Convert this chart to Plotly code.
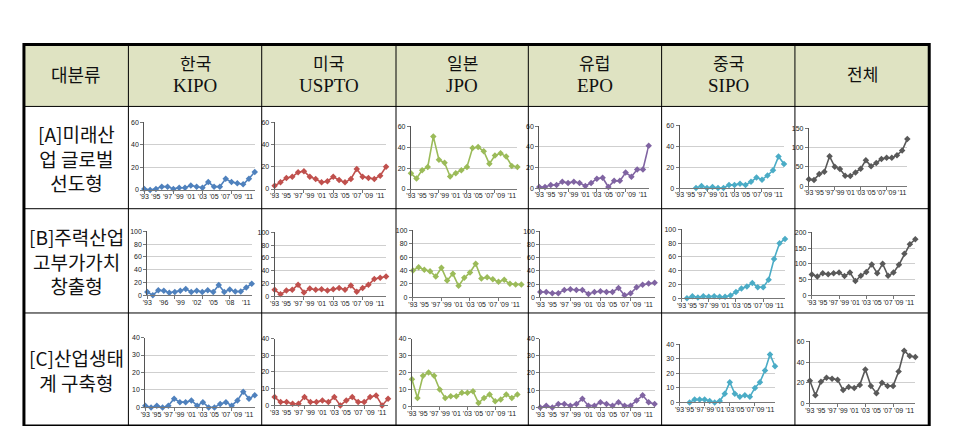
import plotly.graph_objects as go

W, H = 964, 426
years = list(range(1993, 2013))

header_ko = ["한국", "미국", "일본", "유럽", "중국", "전체"]
header_en = ["KIPO", "USPTO", "JPO", "EPO", "SIPO", ""]
row_labels = ["[A]미래산<br>업 글로벌<br>선도형",
              "[B]주력산업<br>고부가가치<br>창출형",
              "[C]산업생태<br>계 구축형"]
colors = ["#4f81bd", "#c0504d", "#9bbb59", "#8064a2", "#4bacc6", "#595959"]

# Row A
a_kipo = [1, 0, 1, 3, 3, 1, 2, 2, 4, 3, 2, 7, 3, 3, 10, 7, 6, 5, 10, 16]
a_uspto = [3, 6, 10, 11, 15, 16, 11, 9, 6, 7, 11, 8, 6, 9, 18, 11, 10, 9, 12, 20]
a_jpo = [15, 10, 18, 21, 50, 28, 25, 12, 15, 18, 21, 39, 40, 36, 24, 32, 34, 31, 22, 21]
a_epo = [1, 1, 3, 3, 6, 5, 6, 5, 2, 5, 9, 10, 1, 7, 7, 15, 11, 18, 18, 41]
a_sipo = [None, None, None, 0, 2, 0, 1, 0, 0, 3, 3, 4, 3, 6, 10, 8, 12, 17, 30, 23]
a_total = [18, 16, 31, 37, 77, 50, 44, 27, 26, 35, 45, 67, 51, 60, 70, 73, 73, 80, 92, 122]
# Row B
b_kipo = [5, 0, 8, 7, 4, 5, 7, 10, 5, 7, 5, 8, 5, 16, 5, 9, 6, 6, 12, 18]
b_uspto = [10, 3, 9, 10, 18, 6, 12, 10, 11, 9, 11, 13, 10, 17, 7, 13, 18, 27, 29, 31]
b_jpo = [40, 45, 41, 39, 31, 44, 25, 35, 17, 29, 37, 50, 28, 30, 27, 23, 26, 20, 19, 19]
b_epo = [8, 8, 6, 6, 11, 12, 11, 11, 5, 8, 9, 8, 8, 14, 3, 6, 15, 19, 21, 22]
b_sipo = [None, 0, 3, 1, 3, 2, 3, 2, 2, 4, 9, 14, 17, 22, 16, 16, 27, 57, 80, 86]
b_total = [66, 60, 70, 67, 70, 72, 61, 72, 45, 62, 74, 98, 70, 100, 62, 72, 97, 132, 162, 178]
# Row C
c_kipo = [1, 0, 1, 0, 1, 5, 3, 3, 4, 1, 3, 0, 0, 2, 3, 1, 4, 9, 5, 7]
c_uspto = [5, 2, 2, 1, 1, 5, 2, 2, 3, 2, 5, 0, 3, 5, 2, 2, 5, 6, 0, 4]
c_jpo = [16, 5, 18, 20, 18, 10, 5, 6, 6, 8, 8, 9, 2, 5, 7, 3, 4, 7, 5, 7]
c_epo = [0, 1, 0, 2, 2, 1, 2, 5, 1, 1, 3, 2, 1, 3, 1, 1, 4, 7, 3, 2]
c_sipo = [None, None, 0, 2, 2, 2, 1, 0, 1, 6, 14, 6, 4, 5, 4, 10, 14, 22, 33, 25]
c_total = [22, 8, 21, 25, 24, 23, 13, 16, 15, 18, 33, 17, 10, 20, 17, 17, 31, 51, 46, 45]

series = [
    [a_kipo, a_uspto, a_jpo, a_epo, a_sipo, a_total],
    [b_kipo, b_uspto, b_jpo, b_epo, b_sipo, b_total],
    [c_kipo, c_uspto, c_jpo, c_epo, c_sipo, c_total],
]
# y-axis max and step per cell
ymax = [[60, 60, 60, 60, 60, 150], [100, 100, 100, 100, 100, 200], [40, 40, 40, 40, 40, 60]]
ystep = [[20, 20, 20, 20, 20, 50], [20, 20, 20, 20, 20, 50], [10, 10, 10, 10, 10, 20]]

# plot boxes in pixels: left, right, top, bottom
boxes = [
    [(132, 243, 112, 181), (263, 375, 112, 180), (400, 507, 116, 180),
     (529, 639, 116, 179), (670, 775, 115, 179), (800, 899, 118, 177)],
    [(135, 240, 223, 288), (263, 375, 224, 289), (402, 511, 222, 290),
     (530, 645, 223, 290), (672, 776, 221, 291), (803, 907, 224, 288)],
    [(133, 243, 331, 402), (263, 377, 332, 400), (401, 507, 332, 401),
     (530, 645, 332, 402), (670, 766, 338, 397), (801, 907, 335, 398)],
]

fig = go.Figure()
layout = {}
n = 0
for r in range(3):
    for c in range(6):
        n += 1
        xa = "x" if n == 1 else f"x{n}"
        ya = "y" if n == 1 else f"y{n}"
        fig.add_trace(go.Scatter(
            x=years, y=series[r][c], mode="lines+markers",
            line=dict(color=colors[c], width=1.6),
            marker=dict(symbol="diamond", size=5, color=colors[c]),
            cliponaxis=False, showlegend=False, xaxis=xa, yaxis=ya,
            connectgaps=False))
        L, R, T, B = boxes[r][c]
        if r == 1 and c == 0:
            tv = years[::3]
        else:
            tv = years[::2]
        tt = ["'" + str(y)[2:] for y in tv]
        xkey = "xaxis" if n == 1 else f"xaxis{n}"
        ykey = "yaxis" if n == 1 else f"yaxis{n}"
        layout[xkey] = dict(
            domain=[L / W, R / W], range=[1993, 2012], anchor=ya,
            tickmode="array", tickvals=tv, ticktext=tt, tickangle=0,
            tickfont=dict(family="Liberation Sans, Arial", size=7, color="#222"),
            showline=True, linecolor="#777", linewidth=1, showgrid=False,
            zeroline=False, ticks="", fixedrange=True,
            minor=dict(ticks="outside", ticklen=3, tickmode="linear",
                       tick0=1993, dtick=5, tickcolor="#777", showgrid=False))
        layout[ykey] = dict(
            domain=[1 - B / H, 1 - T / H], range=[0, ymax[r][c]], anchor=xa,
            tickmode="linear", tick0=0, dtick=ystep[r][c],
            tickfont=dict(family="Liberation Sans, Arial", size=7, color="#222"),
            showline=True, linecolor="#555", linewidth=1,
            showgrid=True, gridcolor="#cfcfcf", gridwidth=1,
            zeroline=False, ticks="outside", ticklen=3, tickcolor="#777",
            fixedrange=True)

fig.update_layout(**layout)

# table geometry (pixels)
col_x = [11, 116, 250, 385, 518, 652, 786, 921]
row_y = [33, 96, 200, 306, 421]


def px(x):
    return x / W


def py(y):
    return 1 - y / H


shapes = []
# header fill
shapes.append(dict(type="rect", xref="paper", yref="paper",
                   x0=px(col_x[0]), x1=px(col_x[-1]), y0=py(row_y[0]), y1=py(row_y[1]),
                   fillcolor="#dfe3c2", line=dict(width=0), layer="below"))
for x in col_x[1:-1]:
    shapes.append(dict(type="line", xref="paper", yref="paper",
                       x0=px(x), x1=px(x), y0=py(row_y[0]), y1=py(row_y[-1]),
                       line=dict(color="#000", width=1)))
for y in row_y[1:-1]:
    shapes.append(dict(type="line", xref="paper", yref="paper",
                       x0=px(col_x[0]), x1=px(col_x[-1]), y0=py(y), y1=py(y),
                       line=dict(color="#000", width=1)))
shapes.append(dict(type="rect", xref="paper", yref="paper",
                   x0=px(col_x[0]), x1=px(col_x[-1]), y0=py(row_y[0]), y1=py(row_y[-1]),
                   line=dict(color="#000", width=3)))

ann = []
kofont = "Noto Sans CJK KR"
serif = "Liberation Serif, DejaVu Serif, serif"
ann.append(dict(x=px((col_x[0] + col_x[1]) / 2), y=py(63), xref="paper", yref="paper",
                text="대분류", showarrow=False, xanchor="center", yanchor="middle",
                font=dict(family=kofont, size=18, color="#111")))
for i in range(6):
    cx = px((col_x[i + 1] + col_x[i + 2]) / 2)
    if header_en[i]:
        ann.append(dict(x=cx, y=py(51), xref="paper", yref="paper", text=header_ko[i],
                        showarrow=False, xanchor="center", yanchor="middle",
                        font=dict(family=kofont, size=17, color="#111")))
        ann.append(dict(x=cx, y=py(75), xref="paper", yref="paper", text=header_en[i],
                        showarrow=False, xanchor="center", yanchor="middle",
                        font=dict(family=serif, size=19, color="#111")))
    else:
        ann.append(dict(x=cx, y=py(63), xref="paper", yref="paper", text=header_ko[i],
                        showarrow=False, xanchor="center", yanchor="middle",
                        font=dict(family=kofont, size=17, color="#111")))
for r in range(3):
    cy = py((row_y[r + 1] + row_y[r + 2]) / 2)
    ann.append(dict(x=px((col_x[0] + col_x[1]) / 2), y=cy, xref="paper", yref="paper",
                    text=row_labels[r], showarrow=False, xanchor="center", yanchor="middle",
                    align="center",
                    font=dict(family=kofont, size=19, color="#111")))

fig.update_layout(width=W, height=H, margin=dict(l=0, r=0, t=0, b=0),
                  paper_bgcolor="white", plot_bgcolor="white",
                  shapes=shapes, annotations=ann, showlegend=False)

fig.write_html("out.html")
